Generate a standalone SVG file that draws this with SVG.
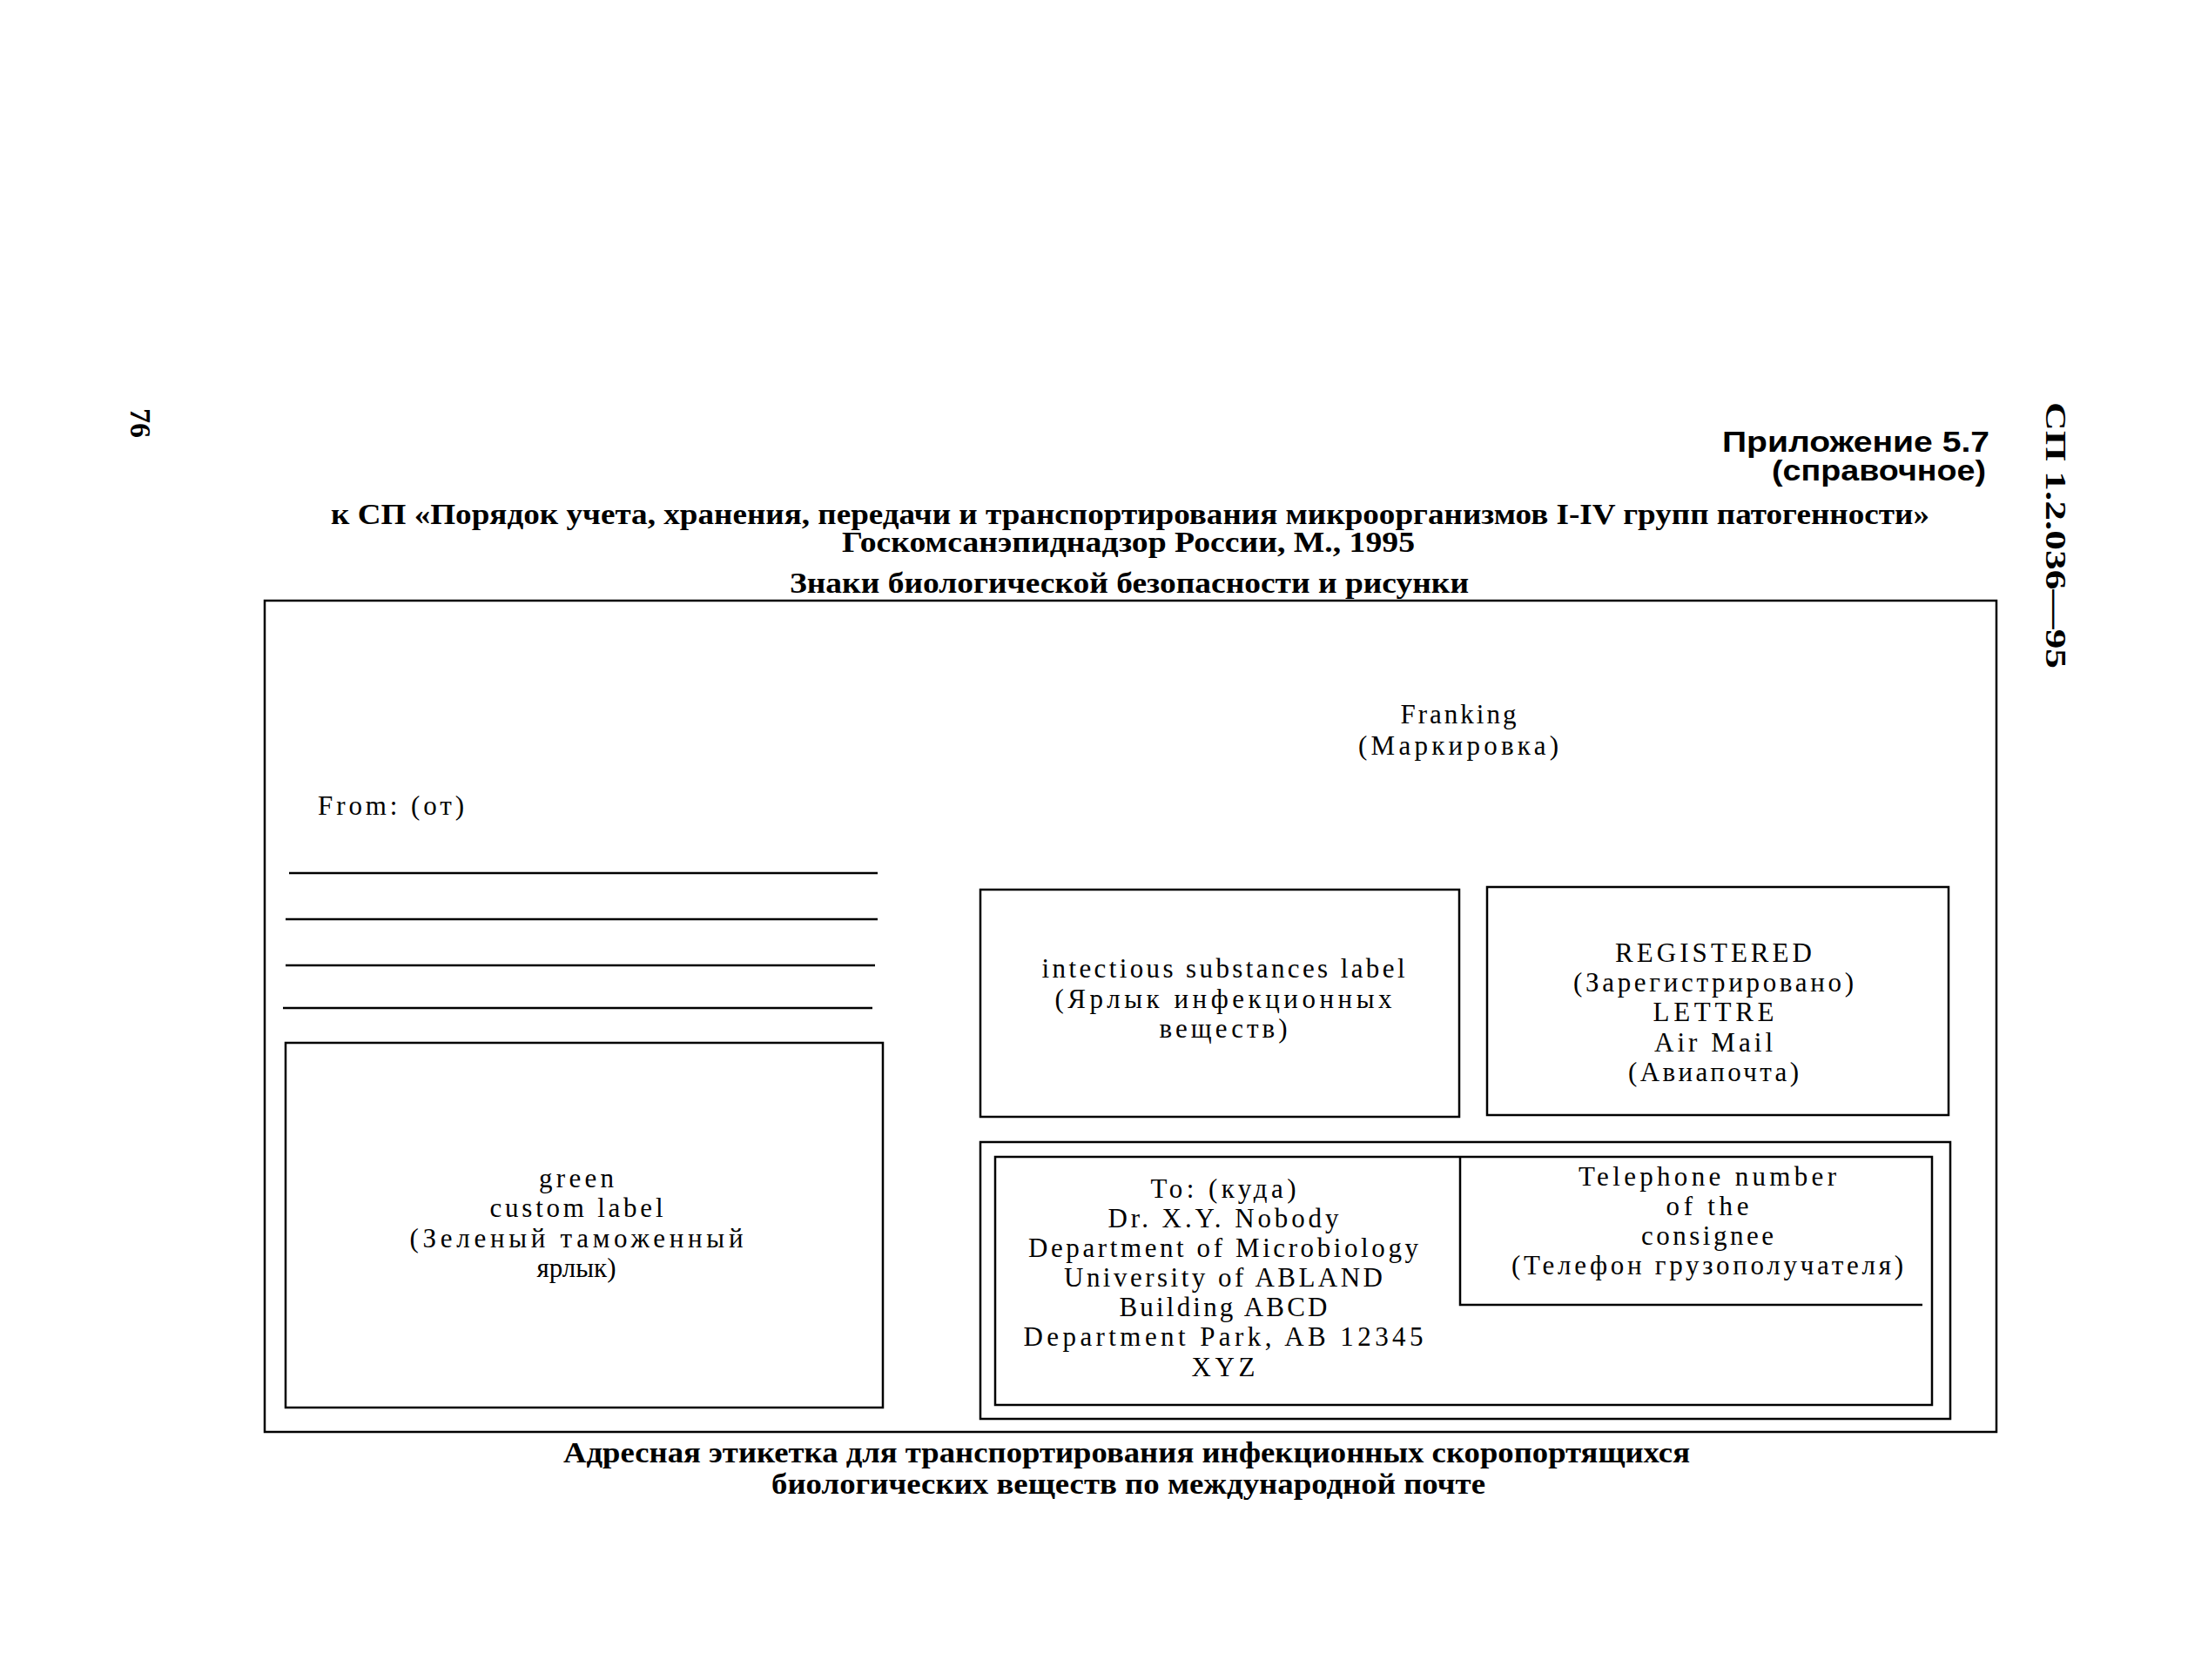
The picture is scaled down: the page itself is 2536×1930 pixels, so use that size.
<svg xmlns="http://www.w3.org/2000/svg" width="2536" height="1930" viewBox="0 0 2536 1930">
<style>
.ln{fill:none;stroke:#000;stroke-width:2.5}
.t{font-family:"Liberation Serif","Times New Roman",serif;font-size:31px;fill:#000;text-anchor:middle}
.h{font-family:"Liberation Serif","Times New Roman",serif;font-weight:bold;font-size:34px;fill:#000}
.s{font-family:"Liberation Sans",Arial,sans-serif;font-weight:bold;font-size:34px;fill:#000;text-anchor:end}
</style>
<rect width="2536" height="1930" fill="#fff"/>
<g id="page-number">
<text class="h" font-size="46" transform="translate(150,469) rotate(90)">76</text>
</g>
<g id="standard-code">
<text class="h" font-size="42" transform="translate(2350,462) rotate(90)" textLength="306" lengthAdjust="spacingAndGlyphs">СП 1.2.036—95</text>
</g>
<g id="header">
<text class="s" x="2285" y="519" textLength="307" lengthAdjust="spacingAndGlyphs">Приложение 5.7</text>
<text class="s" x="2281" y="552" textLength="246" lengthAdjust="spacingAndGlyphs">(справочное)</text>
<text class="h" x="380" y="602" textLength="1836" lengthAdjust="spacingAndGlyphs">к СП «Порядок учета, хранения, передачи и транспортирования микроорганизмов I-IV групп патогенности»</text>
<text class="h" x="967" y="634" textLength="658" lengthAdjust="spacingAndGlyphs">Госкомсанэпиднадзор России, М., 1995</text>
<text class="h" x="907" y="681" textLength="780" lengthAdjust="spacingAndGlyphs">Знаки биологической безопасности и рисунки</text>
</g>
<g id="label-frame">
<rect class="ln" x="304" y="690" width="1989" height="955"/>
</g>
<g id="franking">
<text class="t" x="1675" y="831" textLength="133">Franking</text>
<text class="t" x="1675" y="867" textLength="230">(Маркировка)</text>
</g>
<g id="from">
<text class="t" x="365" y="936" style="text-anchor:start" textLength="168">From: (от)</text>
<line class="ln" x1="332" y1="1003" x2="1008" y2="1003"/>
<line class="ln" x1="328" y1="1056" x2="1008" y2="1056"/>
<line class="ln" x1="328" y1="1109" x2="1005" y2="1109"/>
<line class="ln" x1="325" y1="1158" x2="1002" y2="1158"/>
</g>
<g id="green-label">
<rect class="ln" x="328" y="1198" width="686" height="419"/>
<text class="t" x="662" y="1364" textLength="86">green</text>
<text class="t" x="662" y="1398" textLength="199">custom label</text>
<text class="t" x="662" y="1433" textLength="383">(Зеленый таможенный</text>
<text class="t" x="662" y="1467" textLength="91">ярлык)</text>
</g>
<g id="infectious-label">
<rect class="ln" x="1126" y="1022" width="550" height="261"/>
<text class="t" x="1405" y="1123" textLength="417">intectious substances label</text>
<text class="t" x="1405" y="1158" textLength="387">(Ярлык инфекционных</text>
<text class="t" x="1405" y="1192" textLength="147">веществ)</text>
</g>
<g id="registered">
<rect class="ln" x="1708" y="1019" width="530" height="262"/>
<text class="t" x="1968" y="1105" textLength="226">REGISTERED</text>
<text class="t" x="1968" y="1139" textLength="322">(Зарегистрировано)</text>
<text class="t" x="1968" y="1173" textLength="139">LETTRE</text>
<text class="t" x="1968" y="1208" textLength="136">Air Mail</text>
<text class="t" x="1968" y="1242" textLength="196">(Авиапочта)</text>
</g>
<g id="address">
<rect class="ln" x="1126" y="1312" width="1114" height="318"/>
<rect class="ln" x="1143" y="1329" width="1076" height="285"/>
<text class="t" x="1405" y="1376" textLength="167">To: (куда)</text>
<text class="t" x="1405" y="1410" textLength="265">Dr. X.Y. Nobody</text>
<text class="t" x="1405" y="1444" textLength="448">Department of Microbiology</text>
<text class="t" x="1405" y="1478" textLength="366">University of ABLAND</text>
<text class="t" x="1405" y="1512" textLength="239">Building ABCD</text>
<text class="t" x="1405" y="1546" textLength="459">Department Park, AB 12345</text>
<text class="t" x="1405" y="1581" textLength="73">XYZ</text>
</g>
<g id="telephone">
<polyline class="ln" points="1677,1329 1677,1499 2208,1499"/>
<text class="t" x="1961" y="1362" textLength="296">Telephone number</text>
<text class="t" x="1961" y="1396" textLength="95">of the</text>
<text class="t" x="1961" y="1430" textLength="152">consignee</text>
<text class="t" x="1961" y="1464" textLength="450">(Телефон грузополучателя)</text>
</g>
<g id="caption">
<text class="h" x="647" y="1680" textLength="1294" lengthAdjust="spacingAndGlyphs">Адресная этикетка для транспортирования инфекционных скоропортящихся</text>
<text class="h" x="886" y="1716" textLength="820" lengthAdjust="spacingAndGlyphs">биологических веществ по международной почте</text>
</g>
<g id="connectors"/>
</svg>
